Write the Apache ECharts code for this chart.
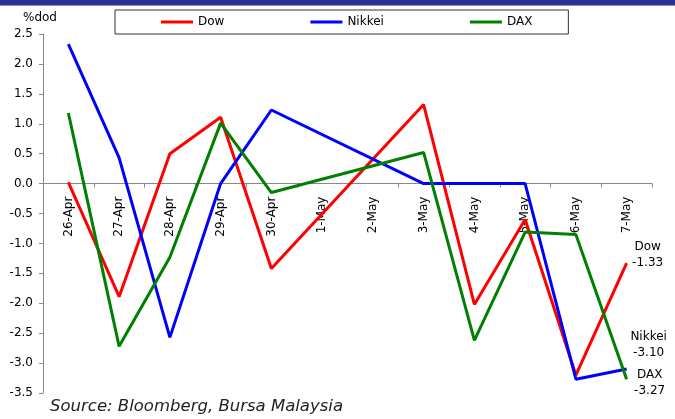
<!DOCTYPE html>
<html>
<head>
<meta charset="utf-8">
<script src="https://cdn.jsdelivr.net/npm/echarts@6/dist/echarts.min.js"></script>
<style>
html,body{margin:0;padding:0;background:#fff;}
#chart{width:675px;height:419px;}
</style>
</head>
<body>
<div id="chart"></div>
<script>
const categories = ['26-Apr','27-Apr','28-Apr','29-Apr','30-Apr','1-May','2-May','3-May','4-May','5-May','6-May','7-May'];
const dowValues    = [0.02, -1.89, 0.50, 1.11, -1.42, null, null, 1.32, -2.02, -0.60, -3.20, -1.33];
const nikkeiValues = [2.33,  0.43, -2.57, 0.00, 1.23, null, null, 0.00, 0.00, 0.00, -3.27, -3.10];
const daxValues    = [1.18, -2.72, -1.23, 1.01, -0.15, null, null, 0.52, -2.62, -0.81, -0.85, -3.27];
const yTickLabels = ['-3.5','-3.0','-2.5','-2.0','-1.5','-1.0','-0.5','0.0','0.5','1.0','1.5','2.0','2.5'];
const seriesNames = ['Dow','Nikkei','DAX'];
const endNotes = ['Dow\n-1.33','Nikkei\n-3.10','DAX\n-3.27'];
const sourceText = 'Source: Bloomberg, Bursa Malaysia';

const FONT = 'DejaVu Sans';
const Y_MIN = -3.5, Y_MAX = 2.5;
const GRID = {left: 43, right: 23, top: 34, bottom: 26};
const H = 419;
const plotH = H - GRID.top - GRID.bottom;
// shift the category axis from the grid bottom up to the zero line
const zeroOffset = -(plotH * (0 - Y_MIN) / (Y_MAX - Y_MIN));

const chart = echarts.init(document.getElementById('chart'), null, {renderer:'canvas'});

function mkSeries(name, data, color, note, offset){
  return {
    name: name, type: 'line', data: data, connectNulls: true,
    symbol: 'none', lineStyle: {color: color, width: 3}, itemStyle: {color: color},
    emphasis: {disabled: true}, animation: false,
    endLabel: {show: true, formatter: note, color: '#000', fontFamily: FONT, fontSize: 12,
      lineHeight: 16, align: 'center', offset: offset, distance: 5}
  };
}
const legendIcon = 'path://M0,0 L32,0 L32,3 L0,3 Z';

const option = {
  animation: false,
  textStyle: {fontFamily: FONT},
  grid: {left: GRID.left, right: GRID.right, top: GRID.top, bottom: GRID.bottom, containLabel: false, outerBoundsMode: 'none'},
  legend: {
    data: seriesNames.map(n => ({name: n, icon: legendIcon})), left: 115, top: 10,
    padding: [6, 36, 6, 46], itemGap: 86, itemWidth: 32, itemHeight: 3,
    borderColor: '#333', borderWidth: 1,
    textStyle: {fontFamily: FONT, fontSize: 12, color: '#000'},
    selectedMode: false
  },
  xAxis: {
    type: 'category', data: categories, boundaryGap: true, offset: zeroOffset,
    axisLine: {onZero: false, lineStyle: {color: '#888', width: 1}},
    axisTick: {show: true, length: 4, lineStyle: {color: '#888'}},
    axisLabel: {interval: 0, rotate: 90, margin: 13, color: '#000', fontFamily: FONT, fontSize: 12},
    splitLine: {show: false}
  },
  yAxis: {
    type: 'value', min: Y_MIN, max: Y_MAX, interval: 0.5,
    name: '%dod', nameLocation: 'end', nameGap: 10,
    nameTextStyle: {color: '#000', fontFamily: FONT, fontSize: 12, align: 'center', padding: [0, 6, 0, 0]},
    axisLine: {show: true, lineStyle: {color: '#888'}},
    axisTick: {show: true, length: 4, lineStyle: {color: '#888'}},
    axisLabel: {margin: 10, color: '#000', fontFamily: FONT, fontSize: 12,
      formatter: function(v){ const i = Math.round((v - Y_MIN) / 0.5); return yTickLabels[i]; }},
    splitLine: {show: false}
  },
  graphic: [
    {type: 'rect', shape: {x: 0, y: 0, width: 675, height: 5}, style: {fill: '#2e3192'}, z: 100},
    {type: 'rect', shape: {x: 0, y: 5, width: 675, height: 1}, style: {fill: '#8f90c8'}, z: 100},
    {type: 'text', left: 50, top: 398, style: {text: sourceText, fill: '#222', font: 'italic 16.5px "DejaVu Sans"'}}
  ],
  series: [
    mkSeries(seriesNames[0], dowValues, '#ff0000', endNotes[0], [16, -8]),
    mkSeries(seriesNames[1], nikkeiValues, '#0000ff', endNotes[1], [17, -24]),
    mkSeries(seriesNames[2], daxValues, '#008000', endNotes[2], [18, 4])
  ]
};
chart.setOption(option);
</script>
</body>
</html>
